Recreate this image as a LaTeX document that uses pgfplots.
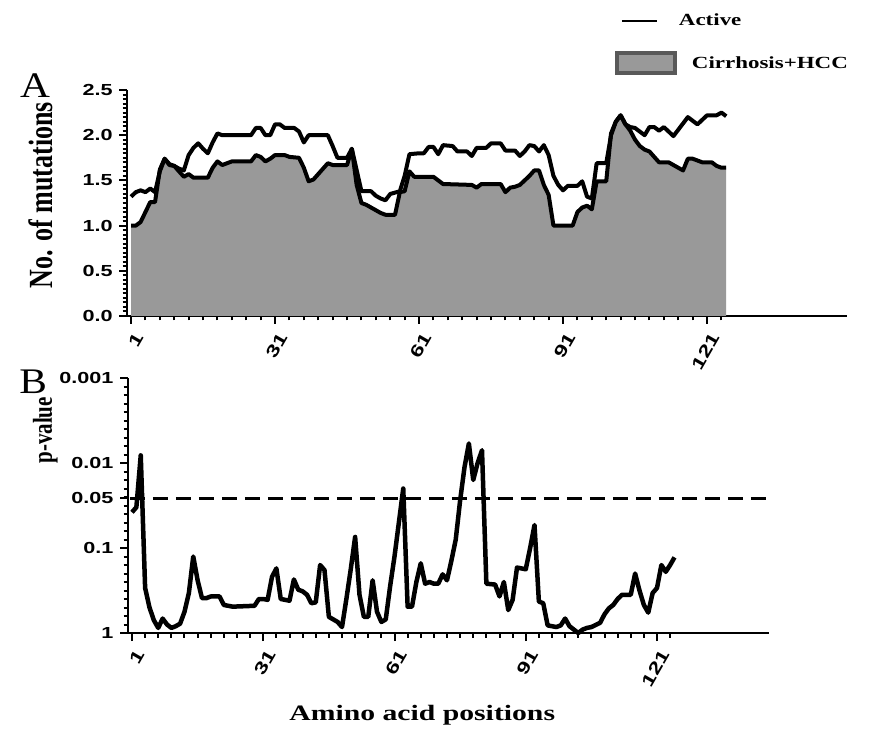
\documentclass[border=0pt]{standalone}
\usepackage{fontspec}
\setmainfont{Liberation Serif}
\setsansfont{Liberation Sans}
\usepackage{pgfplots}
\usepackage{pgfplotstable}
\pgfplotsset{compat=1.18}
\definecolor{areaGray}{HTML}{999999}
\newcommand{\hs}[1]{\scalebox{1.35}[1]{#1}}
\newcommand{\tickfont}{\sffamily\bfseries\fontsize{16}{18}\selectfont}

% mean number of mutations, active carriers
\pgfplotstableread{
x y
1 1.32
2 1.37
3 1.39
4 1.37
5 1.41
6 1.37
7 1.60
8 1.74
9 1.68
10 1.66
11 1.63
12 1.61
13 1.78
14 1.86
15 1.91
16 1.85
17 1.80
18 1.92
19 2.02
20 2.00
26 2.00
27 2.08
28 2.08
29 2.00
30 2.00
31 2.12
32 2.12
33 2.08
35 2.08
36 2.04
37 1.92
38 2.00
42 2.00
43 1.88
44 1.75
46 1.75
47 1.85
49 1.38
51 1.38
52 1.33
53 1.30
54 1.28
55 1.35
57 1.38
58 1.55
59 1.79
61 1.80
62 1.80
63 1.87
64 1.87
65 1.79
66 1.89
68 1.88
69 1.82
71 1.82
72 1.77
73 1.86
75 1.86
76 1.91
78 1.91
79 1.83
81 1.83
82 1.77
83 1.82
84 1.89
85 1.88
86 1.82
87 1.89
88 1.78
89 1.55
90 1.45
91 1.39
92 1.44
94 1.44
95 1.49
96 1.32
97 1.30
98 1.69
100 1.69
101 2.00
102 2.15
103 2.22
104 2.12
105 2.09
106 2.08
107 2.04
108 2.00
109 2.09
110 2.09
111 2.05
112 2.09
113 2.04
114 1.99
115 2.06
116 2.13
117 2.20
118 2.16
119 2.12
120 2.17
121 2.22
123 2.22
124 2.25
125 2.21
}\activetab

% cirrhosis + HCC
\pgfplotstableread{
x y
1 1.00
2 1.00
3 1.04
4 1.15
5 1.26
6 1.26
7 1.62
8 1.74
9 1.67
10 1.66
11 1.60
12 1.54
13 1.57
14 1.53
17 1.53
18 1.64
19 1.71
20 1.67
21 1.69
22 1.71
26 1.71
27 1.78
28 1.76
29 1.71
30 1.74
31 1.78
33 1.78
34 1.76
36 1.75
37 1.64
38 1.49
39 1.51
40 1.57
41 1.63
42 1.69
43 1.67
46 1.67
47 1.85
48 1.45
49 1.25
50 1.23
51 1.20
52 1.17
53 1.14
54 1.12
56 1.12
57 1.37
58 1.38
59 1.60
60 1.54
64 1.54
65 1.50
66 1.46
72 1.45
73 1.42
74 1.46
78 1.46
79 1.37
80 1.42
81 1.43
82 1.45
83 1.50
84 1.55
85 1.61
86 1.61
87 1.45
88 1.34
89 1.00
93 1.00
94 1.15
95 1.20
96 1.22
97 1.18
98 1.49
100 1.49
101 2.02
102 2.15
103 2.22
104 2.12
105 2.05
106 1.95
107 1.88
108 1.84
109 1.82
110 1.76
111 1.70
113 1.70
114 1.67
115 1.64
116 1.61
117 1.74
118 1.74
119 1.72
120 1.70
122 1.70
123 1.66
124 1.64
125 1.64
}\cirrtab

% -log10(p)
\pgfplotstableread{
x y
1 1.42
2 1.48
3 2.09
4 0.53
5 0.30
6 0.15
7 0.06
8 0.17
9 0.10
10 0.06
11 0.08
12 0.11
13 0.25
14 0.47
15 0.90
16 0.62
17 0.41
18 0.41
19 0.43
21 0.43
22 0.33
24 0.31
29 0.32
30 0.40
31 0.40
32 0.39
33 0.66
34 0.76
35 0.40
37 0.38
38 0.63
39 0.51
40 0.49
41 0.45
42 0.35
43 0.36
44 0.80
45 0.74
46 0.19
47 0.16
48 0.13
49 0.07
50 0.40
51 0.75
52 1.13
53 0.45
54 0.19
55 0.19
56 0.62
57 0.25
58 0.13
59 0.16
60 0.55
61 0.90
62 1.30
63 1.70
64 0.31
65 0.31
66 0.60
67 0.82
68 0.58
69 0.60
70 0.58
71 0.58
72 0.69
73 0.62
74 0.85
75 1.10
76 1.56
77 1.95
78 2.23
79 1.80
80 2.00
81 2.15
82 0.58
84 0.57
85 0.43
86 0.60
87 0.27
88 0.39
89 0.77
91 0.75
92 1.00
93 1.27
94 0.37
95 0.35
96 0.09
98 0.07
99 0.09
100 0.17
101 0.08
103 0.00
104 0.04
105 0.06
106 0.07
108 0.12
109 0.22
110 0.29
111 0.33
112 0.40
113 0.45
115 0.45
116 0.70
117 0.50
118 0.33
119 0.24
120 0.47
121 0.53
122 0.80
123 0.72
124 0.80
125 0.89
}\ptab

\pgfplotsset{
  panel/.style={
    scale only axis,
    axis lines=left,
    axis line style={-, line width=2.2pt},
    tick align=outside,
    major tick length=8pt,
    minor tick length=4.5pt,
    every tick/.style={black, line width=2pt},
    tick label style={font=\tickfont},
    yticklabel style={xshift=-3pt},
    xtick={1,31,61,91,121},
    xticklabels={\hs{1},\hs{31},\hs{61},\hs{91},\hs{121}},
    minor xtick={4,7,...,124},
    xticklabel style={font=\sffamily\bfseries\fontsize{17}{19}\selectfont,
      xshift=9pt, yshift=-9pt, rotate=60, anchor=east, inner sep=2pt},
    clip=false
  }
}

\begin{document}
\begin{tikzpicture}
\path[use as bounding box] (0pt,0pt) rectangle (886pt,729pt);

% panel A
\begin{axis}[panel,
  at={(127.2pt,413pt)}, anchor=south west,
  width=720pt, height=226pt,
  xmin=0.2, xmax=150.2, ymin=0, ymax=2.5,
  ytick={0,0.5,1,1.5,2,2.5},
  yticklabels={\hs{0.0},\hs{0.5},\hs{1.0},\hs{1.5},\hs{2.0},\hs{2.5}},
  minor y tick num=9,
  ylabel={\scalebox{1}[1.3]{\bfseries\fontsize{26}{28}\selectfont No. of mutations}},
  every axis y label/.style={at={(axis description cs:-0.12,0.535)}, rotate=90, anchor=center},
  reverse legend,
  legend style={at={(axis description cs:0.673,1.354)}, anchor=north west,
    draw=none, fill=none, font=\bfseries\fontsize{17}{19}\selectfont,
    row sep=22pt, cells={anchor=west}},
]
  \addplot[fill=areaGray, draw=none,
    legend image code/.code={
      \draw[fill=areaGray, draw=black!65, line width=3.5pt] (0pt,-10pt) rectangle (58pt,10pt);}]
    table[x=x, y=y] {\cirrtab} \closedcycle;
  \addlegendentry{\hspace{13pt}\hs{Cirrhosis+HCC}}
  \addplot[black, line width=4pt, line join=round, forget plot] table[x=x, y=y] {\cirrtab};
  \addplot[black, line width=4pt, line join=round,
    legend image code/.code={
      \path (0pt,0pt) (58pt,0pt);
      \draw[black, line width=2.5pt] (5pt,0pt) -- (40pt,0pt);}]
    table[x=x, y=y] {\activetab};
  \addlegendentry{\hs{Active}}
  \node[font=\fontsize{36}{38}\selectfont] at (axis description cs:-0.128,1.02) {\scalebox{1.15}[1]{A}};
\end{axis}

% panel B
\begin{axis}[panel,
  at={(128pt,96pt)}, anchor=south west,
  width=641pt, height=255pt,
  xmin=0.086, xmax=146.6, ymin=0, ymax=3,
  ytick={0,1,1.585,2,3},
  yticklabels={\hs{1},\hs{0.1},\hs{0.05},\hs{0.01},\hs{0.001}},
  minor ytick={0.1,0.2,0.3,0.4,0.5,0.6,0.7,0.8,0.9,1.1,1.2,1.3,1.4,1.5,1.6,1.7,1.8,1.9,2.1,2.2,2.3,2.4,2.5,2.6,2.7,2.8,2.9},
  ylabel={\scalebox{1}[1.3]{\bfseries\fontsize{21}{23}\selectfont p-value}},
  every axis y label/.style={at={(axis description cs:-0.129,0.795)}, rotate=90, anchor=center},
  xlabel={\hs{\bfseries\fontsize{22}{24}\selectfont Amino acid positions}},
  every axis x label/.style={at={(axis description cs:0.459,-0.322)}, anchor=center},
]
  \addplot[black, line width=3pt, dash pattern=on 15pt off 8pt] coordinates {(0.5,1.585) (146.6,1.585)};
  \addplot[black, line width=4.5pt, line join=round] table[x=x, y=y] {\ptab};
  \node[font=\fontsize{36}{38}\selectfont] at (axis description cs:-0.148,0.985) {\scalebox{1.15}[1]{B}};
\end{axis}
\end{tikzpicture}
\end{document}
